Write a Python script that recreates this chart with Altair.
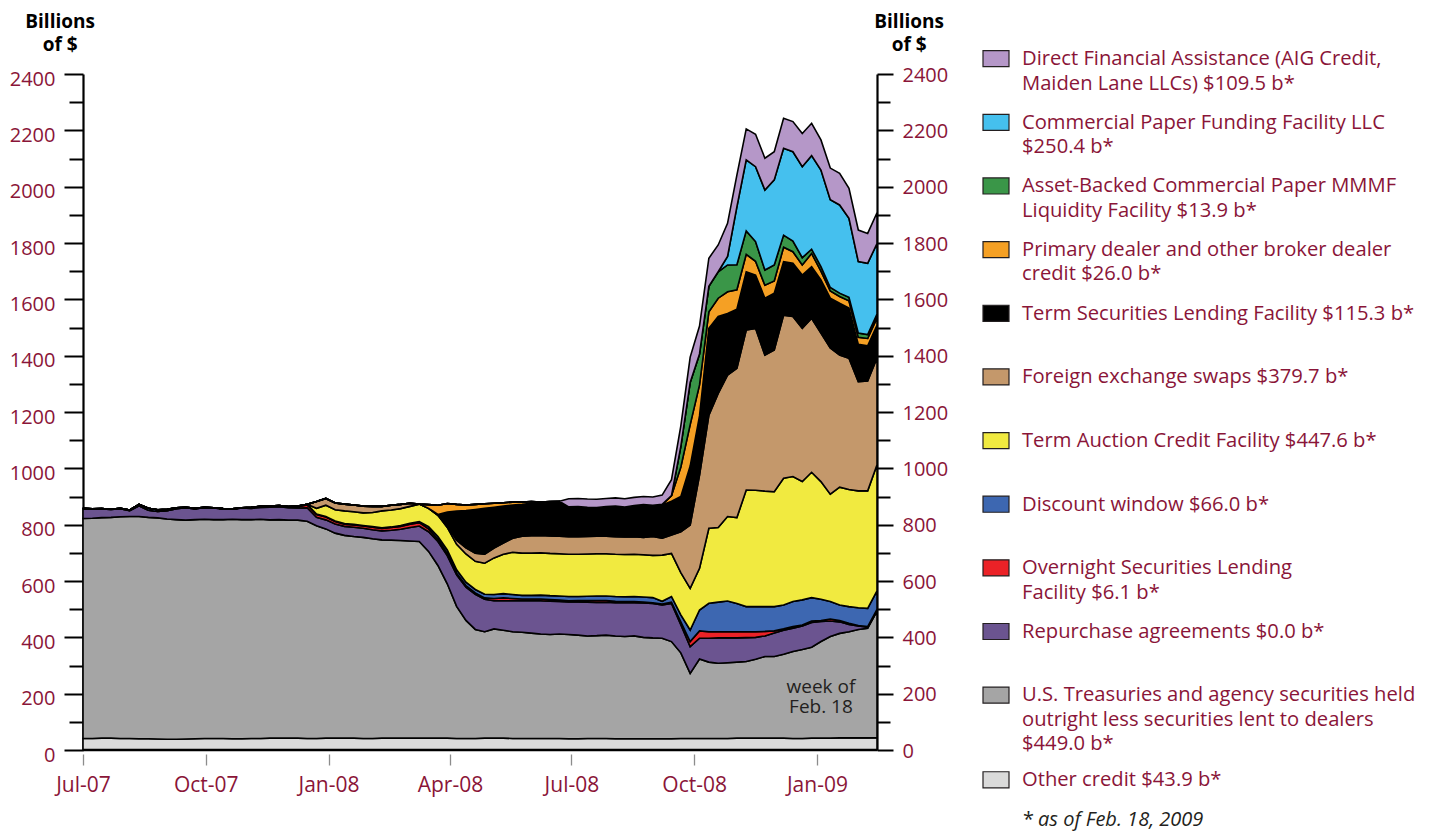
import altair as alt
import pandas as pd

FONT = "Open Sans"
RED = "#8a1538"
INK = "#231f20"

# weekly observations, Jul 2007 - week of Feb 18, 2009 (86 weeks)
dates = pd.date_range("2007-07-01", periods=86, freq="7D")

other_credit = [41, 41, 42, 42, 41, 41, 40, 40, 39, 38,
                38, 39, 40, 41, 41, 41, 40, 40, 41, 41,
                42, 42, 42, 42, 41, 41, 42, 42, 42, 42,
                41, 41, 42, 42, 42, 42, 42, 42, 42, 42,
                41, 41, 41, 42, 42, 42, 41, 41, 41, 41,
                41, 41, 40, 40, 41, 41, 41, 40, 40, 40,
                40, 40, 40, 40, 41, 41, 41, 41, 41, 41,
                42, 42, 42, 42, 42, 42, 41, 41, 42, 42,
                42, 43, 43, 43, 43, 43.9]
treasuries = [781, 782, 783, 784, 787, 788, 789, 786, 785, 782,
              780, 777, 778, 778, 777, 777, 779, 778, 777, 778,
              775, 776, 774, 774, 771, 755, 743, 728, 720, 716,
              714, 709, 704, 703, 702, 700, 698, 663, 613, 548,
              469, 419, 387, 378, 388, 383, 379, 377, 374, 371,
              369, 371, 370, 368, 364, 365, 367, 365, 363, 365,
              360, 358, 357, 345, 304, 231, 282, 271, 267, 269,
              270, 272, 280, 290, 290, 298, 309, 316, 323, 343,
              361, 371, 377, 385, 389, 449.0]
repo = [35, 32, 31, 28, 29, 21, 38, 25, 23, 30,
        39, 44, 38, 42, 41, 38, 36, 41, 40, 42,
        45, 46, 44, 43, 48, 30, 32, 32, 32, 33,
        32, 32, 32, 35, 40, 48, 55, 70, 85, 100,
        112, 118, 125, 115, 100, 105, 110, 112, 115, 118,
        118, 115, 116, 118, 120, 118, 117, 118, 120, 118,
        122, 122, 118, 135, 100, 95, 74, 85, 90, 88,
        86, 85, 78, 73, 83, 85, 82, 83, 88, 71,
        55, 41, 26, 12, 4, 0.0]
overnight_sl = [0, 0, 0, 0, 0, 0, 0, 0, 0, 0,
                0, 0, 0, 0, 0, 0, 0, 0, 3, 3,
                3, 3, 3, 5, 10, 10, 10, 9, 8, 8,
                8, 9, 9, 10, 10, 12, 12, 10, 8, 8,
                6, 6, 5, 5, 8, 10, 8, 6, 6, 6,
                6, 5, 4, 5, 6, 7, 6, 5, 4, 4,
                3, 3, 3, 5, 10, 18, 26, 23, 22, 22,
                22, 21, 20, 16, 8, 5, 6, 4, 5, 4,
                7, 5, 4, 2, 2, 6.1]
discount_window = [1, 1, 1, 1, 1, 2, 5, 7, 6, 5,
                   3, 2, 2, 1, 1, 1, 1, 1, 1, 1,
                   1, 1, 1, 2, 2, 2, 2, 2, 2, 2,
                   2, 2, 2, 2, 3, 3, 4, 8, 10, 12,
                   12, 12, 12, 13, 14, 15, 14, 13, 13, 14,
                   14, 15, 15, 14, 15, 16, 16, 17, 17, 18,
                   18, 18, 10, 20, 25, 41, 74, 101, 105, 109,
                   100, 89, 89, 88, 86, 85, 89, 89, 83, 75,
                   62, 55, 59, 63, 65, 66.0]
taf = [0, 0, 0, 0, 0, 0, 0, 0, 0, 0,
       0, 0, 0, 0, 0, 0, 0, 0, 0, 0,
       0, 0, 0, 0, 0, 20, 40, 40, 45, 45,
       45, 50, 60, 60, 60, 60, 62, 65, 75, 80,
       90, 100, 100, 110, 130, 140, 150, 150, 150, 150,
       150, 150, 150, 150, 150, 150, 150, 150, 150, 150,
       150, 150, 164, 153, 150, 148, 148, 266, 265, 300,
       305, 414, 413, 410, 408, 450, 444, 420, 445, 418,
       381, 418, 416, 415, 417, 447.6]
fx_swaps = [0, 0, 0, 0, 0, 0, 0, 0, 0, 0,
            0, 0, 0, 0, 0, 0, 0, 0, 0, 0,
            0, 0, 0, 0, 0, 24, 24, 24, 24, 24,
            24, 22, 16, 17, 15, 11, 0, 0, 0, 8,
            15, 22, 29, 32, 35, 40, 50, 60, 62, 62,
            62, 62, 62, 62, 62, 62, 62, 62, 62, 62,
            62, 67, 60, 65, 145, 225, 331, 402, 476, 502,
            530, 568, 575, 483, 503, 579, 568, 544, 547, 527,
            519, 469, 466, 388, 390, 379.7]
tslf = [0, 0, 0, 0, 0, 0, 0, 0, 0, 0,
        0, 0, 0, 0, 0, 0, 0, 0, 0, 0,
        0, 0, 0, 0, 0, 0, 0, 0, 0, 0,
        0, 0, 0, 0, 0, 0, 0, 0, 3, 47,
        103, 132, 155, 163, 145, 131, 118, 113, 115, 113,
        118, 121, 104, 106, 103, 102, 105, 109, 107, 111,
        116, 111, 118, 120, 125, 209, 210, 308, 273, 219,
        210, 207, 189, 202, 202, 190, 189, 189, 183, 189,
        177, 184, 178, 132, 125, 115.3]
pdcf = [0, 0, 0, 0, 0, 0, 0, 0, 0, 0,
        0, 0, 0, 0, 0, 0, 0, 0, 0, 0,
        0, 0, 0, 0, 0, 0, 0, 0, 0, 0,
        0, 0, 0, 0, 0, 0, 0, 13, 33, 30,
        24, 20, 18, 16, 14, 12, 10, 8, 6, 5,
        4, 3, 2, 1, 1, 0, 0, 0, 0, 0,
        0, 0, 2, 20, 105, 147, 110, 59, 65, 77,
        69, 62, 49, 46, 43, 51, 41, 36, 47, 31,
        26, 24, 26, 25, 26, 26.0]
amlf = [0] * 64 + [73, 150, 110, 90, 94, 95,
                   89, 83, 70, 54, 57, 43, 38, 26, 15, 16,
                   12, 12, 12, 15, 14, 13.9]
cpff = [0] * 69 + [30,
                   205, 252, 266, 284, 302, 308, 317, 323, 332, 343,
                   312, 313, 281, 254, 253, 250.4]
direct_fin = [0] * 52 + [29, 29, 29, 29, 29, 29, 29, 29, 29, 29,
                         33, 57, 73, 90, 99, 100, 95, 118,
                         113, 110, 115, 113, 100, 107, 107, 118, 115, 107,
                         112, 112, 106, 112, 106, 109.5]

keys = ["other", "treasuries", "repo", "osl", "discount", "taf",
        "fx", "tslf", "pdcf", "amlf", "cpff", "dfa"]
colors = ["#dadada", "#a5a5a5", "#6b5490", "#eb2227", "#3d67b1", "#f1ea40",
          "#c4986b", "#000000", "#f5a024", "#3a9648", "#45c0ee", "#b597c8"]
series_values = [other_credit, treasuries, repo, overnight_sl, discount_window, taf,
                 fx_swaps, tslf, pdcf, amlf, cpff, direct_fin]

legend_keys = ["dfa", "cpff", "amlf", "pdcf", "tslf", "fx", "taf",
               "discount", "osl", "repo", "treasuries", "other"]
legend_labels = [
    "Direct Financial Assistance (AIG Credit,\nMaiden Lane LLCs) $109.5 b*",
    "Commercial Paper Funding Facility LLC\n$250.4 b*",
    "Asset-Backed Commercial Paper MMMF\nLiquidity Facility $13.9 b*",
    "Primary dealer and other broker dealer\ncredit $26.0 b*",
    "Term Securities Lending Facility $115.3 b*",
    "Foreign exchange swaps $379.7 b*",
    "Term Auction Credit Facility $447.6 b*",
    "Discount window $66.0 b*",
    "Overnight Securities Lending\nFacility $6.1 b*",
    "Repurchase agreements $0.0 b*",
    "U.S. Treasuries and agency securities held\noutright less securities lent to dealers\n$449.0 b*",
    "Other credit $43.9 b*",
]
legend_slots = [0, 1, 2, 3, 4, 5, 6, 7, 8, 9, 10, 11.33]

rows = []
for k, (key, vals) in enumerate(zip(keys, series_values)):
    assert len(vals) == 86, (key, len(vals))
    for d, v in zip(dates, vals):
        rows.append({"date": d, "series": key, "value": v, "ord": k})
df = pd.DataFrame(rows)

color_scale = alt.Scale(domain=keys, range=colors)
yscale = alt.Scale(domain=[0, 2400], nice=False, zero=True)
xscale = alt.Scale(domain=[alt.DateTime(year=2007, month=7, date=1),
                           alt.DateTime(year=2009, month=2, date=15)], nice=False)

tick_values = list(range(0, 2401, 100))
label_expr = "datum.value % 200 === 0 ? datum.label : ''"

left_axis = alt.Axis(
    orient="left", values=tick_values, format="d", labelExpr=label_expr, grid=False,
    domainColor="black", domainWidth=2.2, tickColor="black", tickWidth=2,
    tickSize={"condition": {"test": "datum.value % 200 === 0", "value": 19}, "value": 14},
    labelColor=RED, labelFont=FONT, labelFontSize=20, labelPadding=9, labelOffset=5,
    labelOverlap=False,
    title=["Billions", "of $"], titleFont=FONT, titleFontSize=19, titleFontWeight="bold",
    titleColor="black", titleAngle=0, titleAlign="center", titleBaseline="alphabetic",
    titleX=-23.4, titleY=-47, titleLineHeight=23,
)
right_axis = alt.Axis(
    orient="right", values=tick_values, format="d", labelExpr=label_expr, grid=False,
    domainColor="black", domainWidth=2.2, tickColor="black", tickWidth=2,
    tickSize={"condition": {"test": "datum.value % 200 === 0", "value": 16}, "value": 13},
    labelColor=RED, labelFont=FONT, labelFontSize=20, labelPadding=9, labelOffset=1,
    labelOverlap=False,
    title=["Billions", "of $"], titleFont=FONT, titleFontSize=19, titleFontWeight="bold",
    titleColor="black", titleAngle=0, titleAlign="center", titleBaseline="alphabetic",
    titleX=31.6, titleY=-47, titleLineHeight=23,
)
x_axis = alt.Axis(
    values=[alt.DateTime(year=2007, month=7, date=1), alt.DateTime(year=2007, month=10, date=1),
            alt.DateTime(year=2008, month=1, date=1), alt.DateTime(year=2008, month=4, date=1),
            alt.DateTime(year=2008, month=7, date=1), alt.DateTime(year=2008, month=10, date=1),
            alt.DateTime(year=2009, month=1, date=1)],
    format="%b-%y", domain=False, offset=4, tickSize=11, tickColor="#8c8c8c", tickWidth=1.3,
    labelColor=RED, labelFont=FONT, labelFontSize=21, labelPadding=9,
    labelFlush=False, labelOverlap=False, grid=False, title=None,
)

areas = alt.Chart(df).mark_area(stroke="black", strokeWidth=1.6, interpolate="linear").encode(
    x=alt.X("date:T", scale=xscale, axis=x_axis),
    y=alt.Y("value:Q", stack="zero", scale=yscale, axis=left_axis),
    color=alt.Color("series:N", scale=color_scale, legend=None),
    order=alt.Order("ord:Q", sort="ascending"),
)

right = alt.Chart(pd.DataFrame({"value": [0, 2400]})).mark_point(opacity=0).encode(
    y=alt.Y("value:Q", scale=yscale, axis=right_axis),
)

baseline = alt.Chart(pd.DataFrame({"value": [0]})).mark_rule(color="black", strokeWidth=2.5).encode(
    y=alt.Y("value:Q", scale=yscale, axis=None),
)

note_df = pd.DataFrame({"date": [pd.Timestamp("2009-01-04")], "value": [203]})
note = alt.Chart(note_df).mark_text(
    text=["week of", "Feb. 18"], font=FONT, fontSize=19, color=INK,
    align="center", baseline="alphabetic", lineHeight=20.5,
).encode(
    x=alt.X("date:T", scale=xscale),
    y=alt.Y("value:Q", scale=yscale, axis=None),
)

main = alt.layer(areas, baseline, note, right).resolve_axis(y="independent").properties(
    width=794, height=676)

# ---- legend panel ----
legend_df = pd.DataFrame({"key": legend_keys, "label": legend_labels, "slot": legend_slots})
legend_df["y0"] = legend_df["slot"] - 0.126
legend_df["y1"] = legend_df["slot"] + 0.126
lscale = alt.Scale(domain=[0.2404, 10.862], reverse=True, nice=False, zero=False)

swatches = alt.Chart(legend_df).mark_rect(stroke=INK, strokeWidth=1.2).encode(
    x=alt.value(0), x2=alt.value(26),
    y=alt.Y("y0:Q", scale=lscale, axis=None), y2="y1:Q",
    color=alt.Color("key:N", scale=color_scale, legend=None),
)
labels = alt.Chart(legend_df).mark_text(
    align="left", baseline="alphabetic", dy=6.3, font=FONT, fontSize=20.2,
    lineHeight=24.5, lineBreak="\n", color=RED,
).encode(
    x=alt.value(39),
    y=alt.Y("slot:Q", scale=lscale, axis=None),
    text="label:N",
)
foot_df = pd.DataFrame({"slot": [12.05]})
star = alt.Chart(foot_df).mark_text(
    text="*", align="left", baseline="alphabetic", font=FONT, fontSize=20, color=INK,
).encode(x=alt.value(40), y=alt.Y("slot:Q", scale=lscale, axis=None))
foot = alt.Chart(foot_df).mark_text(
    text="as of Feb. 18, 2009", align="left", baseline="alphabetic", font=FONT,
    fontSize=20, fontStyle="italic", color=INK,
).encode(x=alt.value(55), y=alt.Y("slot:Q", scale=lscale, axis=None))

legend = alt.layer(swatches, labels, star, foot).properties(width=425, height=676)

chart = alt.hconcat(main, legend, spacing=34).properties(
    padding={"left": 1, "top": 4, "right": 0, "bottom": 8},
    background="white",
).configure_view(stroke=None)

chart.save("out.html", embed_options={"renderer": "svg", "actions": False})
